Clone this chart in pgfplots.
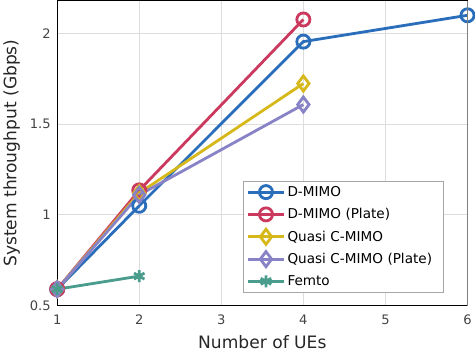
\documentclass[border=0pt]{standalone}
\usepackage{pgfplots}
\pgfplotsset{compat=1.18}
\usepackage{fontspec}
\setmainfont{DejaVu Sans}
\definecolor{cblue}{HTML}{2A6EBB}
\definecolor{cred}{HTML}{CB3A5E}
\definecolor{cyel}{HTML}{D6B81B}
\definecolor{cpur}{HTML}{8783C6}
\definecolor{cteal}{HTML}{4A9C8C}
\definecolor{tickgray}{HTML}{444444}
\definecolor{gridgray}{HTML}{DDDDDD}
\begin{document}
\begin{tikzpicture}
\begin{axis}[
  scale only axis,
  width=408pt, height=303pt,
  xmin=1, xmax=6, ymin=0.5, ymax=2.18,
  xtick={1,2,3,4,5,6},
  ytick={0.5,1,1.5,2},
  major tick length=0pt,
  grid=major,
  major grid style={gridgray, line width=1pt},
  axis line style={black, line width=0.8pt},
  /pgf/number format/assume math mode=true,
  tick label style={font=\fontsize{13}{15}\selectfont, text=tickgray},
  xticklabel style={yshift=-6pt},
  yticklabel style={xshift=-3pt},
  xlabel={Number of UEs},
  ylabel={System throughput (Gbps)},
  label style={font=\fontsize{17}{20}\selectfont, text=black!85},
  xlabel style={yshift=-4pt},
  ylabel style={yshift=3pt},
  clip=false,
  legend cell align=left,
  legend style={at={(rel axis cs:0.453,0.409)}, anchor=north west,
    font=\fontsize{13.5}{16}\selectfont, draw=gray!70, line width=0.8pt,
    row sep=6.5pt, inner ysep=3pt, inner xsep=3pt,
    /tikz/column 2/.style={nodes={text width=150pt, align=left}}},
  legend image code/.code={\draw[mark repeat=2, mark phase=2] plot coordinates {(0pt,0pt) (18pt,0pt) (36pt,0pt)};},
  every axis plot/.append style={line width=2.8pt},
  after end axis/.code={\draw[gray, line width=1.6pt] (rel axis cs:1,0) -- (rel axis cs:1,1);},
]
\addplot[cblue, mark=o, mark size=6.5pt, mark options={line width=2.8pt}] coordinates {(1,0.59) (2,1.05) (4,1.955) (6,2.1)};
\addlegendentry{D-MIMO}
\addplot[cred, mark=o, mark size=6.5pt, mark options={line width=2.8pt}] coordinates {(1,0.59) (2,1.135) (4,2.077)};
\addlegendentry{D-MIMO (Plate)}
\addplot[cyel, mark=diamond, mark size=7.5pt, mark options={line width=2.8pt}] coordinates {(1,0.59) (2,1.12) (4,1.724)};
\addlegendentry{Quasi C-MIMO}
\addplot[cpur, mark=diamond, mark size=7.5pt, mark options={line width=2.8pt}] coordinates {(1,0.59) (2,1.11) (4,1.608)};
\addlegendentry{Quasi C-MIMO (Plate)}
\addplot[cteal, mark=asterisk, mark size=6pt, mark options={line width=2.8pt}] coordinates {(1,0.59) (2,0.662)};
\addlegendentry{Femto}
\end{axis}
\end{tikzpicture}
\end{document}
